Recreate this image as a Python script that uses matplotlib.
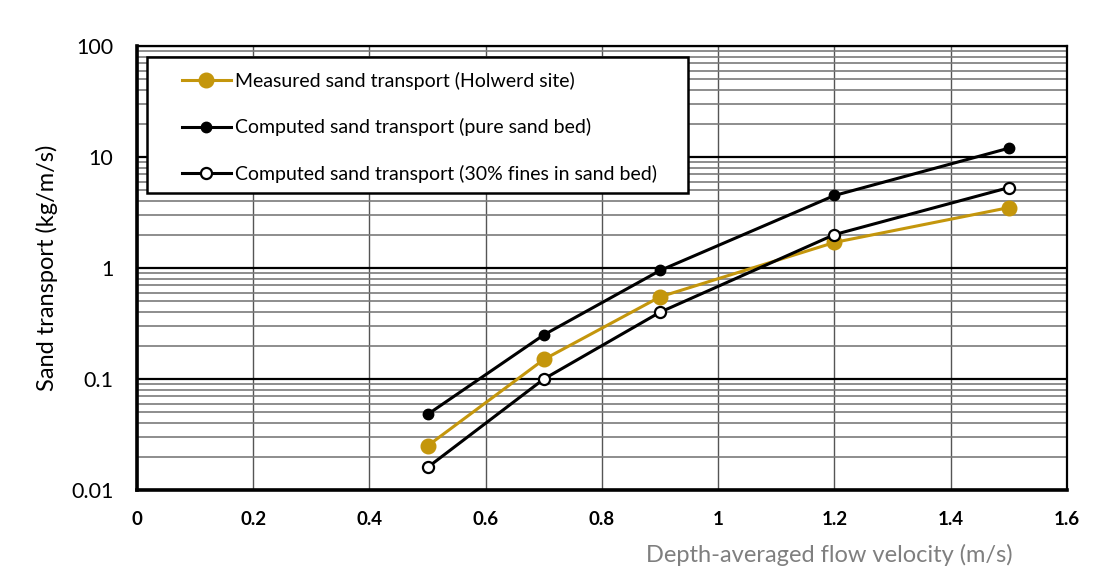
import numpy as np
import matplotlib.pyplot as plt
from matplotlib.patches import Rectangle
from matplotlib.ticker import FixedLocator, NullFormatter

plt.rcParams['font.family'] = ['Lato', 'DejaVu Sans']

# data
velocity = [0.5, 0.7, 0.9, 1.2, 1.5]
measured = [0.025, 0.15, 0.55, 1.7, 3.5]
pure_sand = [0.048, 0.25, 0.95, 4.5, 12.0]
fines_30 = [0.016, 0.10, 0.40, 2.0, 5.3]

x_ticks = [0, 0.2, 0.4, 0.6, 0.8, 1, 1.2, 1.4, 1.6]
x_tick_labels = ['0', '0.2', '0.4', '0.6', '0.8', '1', '1.2', '1.4', '1.6']
y_ticks = [0.01, 0.1, 1, 10, 100]
y_tick_labels = ['0.01', '0.1', '1', '10', '100']

gold = '#C4960C'

fig = plt.figure(figsize=(10.95, 5.74), dpi=100)
ax = fig.add_axes([0.1251, 0.1463, 0.8493, 0.7736])

ax.set_yscale('log')
ax.set_xlim(0, 1.6)
ax.set_ylim(0.01, 100)

# grid
minor = [m * 10.0 ** e for e in range(-2, 2) for m in range(2, 10)]
ax.yaxis.set_minor_locator(FixedLocator(minor))
ax.yaxis.set_minor_formatter(NullFormatter())
ax.grid(which='minor', axis='y', color='#7a7a7a', linewidth=1.2)
ax.grid(which='major', axis='y', color='black', linewidth=1.6)
ax.grid(which='major', axis='x', color='#555555', linewidth=1.0)
ax.set_axisbelow(True)

ax.plot(velocity, measured, color=gold, lw=2.2, marker='o', ms=10.5,
        label='Measured sand transport (Holwerd site)', zorder=3)
ax.plot(velocity, pure_sand, color='black', lw=2.2, marker='o', ms=7.5,
        label='Computed sand transport (pure sand bed)', zorder=4)
ax.plot(velocity, fines_30, color='black', lw=2.2, marker='o', ms=8,
        mfc='white', mec='black', mew=1.6,
        label='Computed sand transport (30% fines in sand bed)', zorder=4)

ax.set_xticks(x_ticks)
ax.set_xticklabels(x_tick_labels, fontsize=13.5, fontweight='bold')
ax.set_yticks(y_ticks)
ax.set_yticklabels(y_tick_labels, fontsize=15.5)
ax.tick_params(which='both', length=0)
ax.tick_params(axis='x', pad=15)
ax.tick_params(axis='y', pad=17)

for s in ['top', 'right']:
    ax.spines[s].set_linewidth(1.6)
for s in ['left', 'bottom']:
    ax.spines[s].set_linewidth(2.6)

ax.set_ylabel('Sand transport (kg/m/s)', fontsize=17, labelpad=9)
fig.text(0.757, 0.033, 'Depth-averaged flow velocity (m/s)', fontsize=17,
         color='#7f7f7f', ha='center', va='center')

# legend box (wider than its content, as in the original)
box = Rectangle((0.0108, 0.669), 0.5817, 0.306, transform=ax.transAxes,
                facecolor='white', edgecolor='black', lw=1.8, zorder=5)
ax.add_patch(box)
leg = ax.legend(loc='upper left', bbox_to_anchor=(0.0484, 0.941),
                fontsize=14, frameon=False, handlelength=2.5,
                handletextpad=0.25, labelspacing=1.45, borderpad=0,
                borderaxespad=0)
leg.set_zorder(6)

fig.savefig('out.png', dpi=100)
